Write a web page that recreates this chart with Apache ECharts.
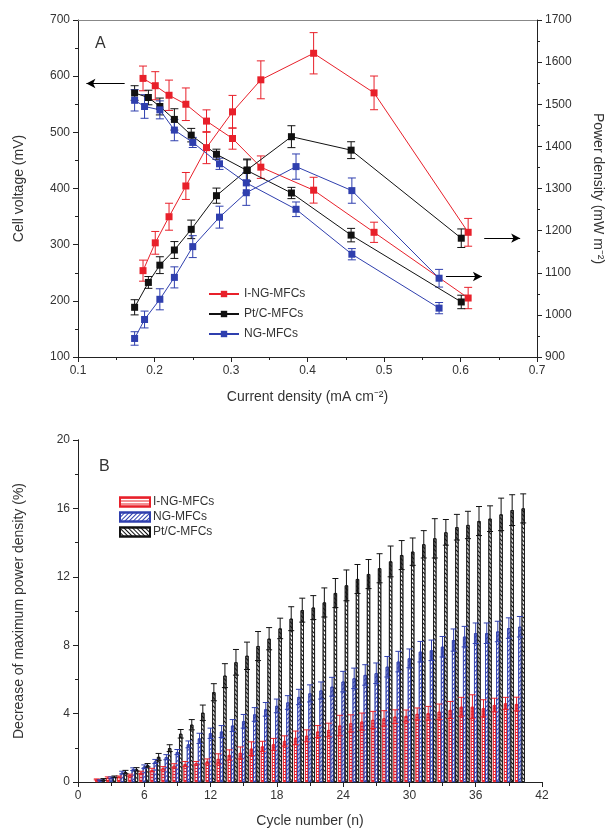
<!DOCTYPE html>
<html>
<head>
<meta charset="utf-8">
<script src="https://cdn.jsdelivr.net/npm/echarts@6/dist/echarts.min.js"></script>
<style>
html,body{margin:0;padding:0;background:#fff;}
#chart{width:613px;height:833px;}
</style>
</head>
<body>
<div id="chart"></div>
<script>
// ---------- Panel A data ----------
const xRed   = [0.185,0.201,0.219,0.241,0.268,0.302,0.339,0.408,0.487,0.610];
const vRed   = [596,583,566,550,520,489,438,397,322,205];
const vRedE  = [22,25,27,29,20,19,20,23,18,19];
const pRed   = [1105,1171,1233,1306,1397,1482,1558,1621,1527,1196];
const pRedE  = [25,27,32,32,38,39,45,49,40,33];

const xBlack = [0.174,0.192,0.207,0.226,0.248,0.281,0.321,0.379,0.457,0.601];
const vBlack = [570,562,546,523,495,461,432,392,317,198];
const vBlackE= [13,13,15,19,12,9,19,10,12,12];
const pBlack = [1018,1077,1118,1154,1203,1283,1344,1423,1391,1182];
const pBlackE= [18,14,20,20,22,18,26,26,20,22];

const xBlue  = [0.174,0.187,0.207,0.226,0.250,0.285,0.320,0.385,0.458,0.572];
const vBlue  = [557,546,540,504,482,444,410,363,283,187];
const vBlueE = [19,21,16,19,9,10,18,13,10,10];
const pBlue  = [944,989,1037,1089,1162,1232,1290,1352,1295,1087];
const pBlueE = [16,20,25,25,26,26,30,30,30,21];

// ---------- Panel B data ----------
const cycles = [2,3,4,5,6,7,8,9,10,11,12,13,14,15,16,17,18,19,20,21,22,23,24,25,26,27,28,29,30,31,32,33,34,35,36,37,38,39,40];
const decING = [0.15,0.25,0.3,0.4,0.55,0.7,0.8,0.95,1.05,1.1,1.2,1.35,1.58,1.7,1.95,2.08,2.2,2.4,2.58,2.7,2.95,3.04,3.3,3.43,3.53,3.63,3.72,3.82,3.86,3.98,4.02,4.11,4.21,4.4,4.4,4.31,4.5,4.6,4.56];
const errING = [0.03,0.05,0.05,0.06,0.08,0.1,0.1,0.12,0.15,0.1,0.15,0.3,0.3,0.35,0.4,0.3,0.35,0.3,0.4,0.35,0.35,0.4,0.6,0.5,0.5,0.5,0.45,0.4,0.35,0.35,0.4,0.45,0.5,0.55,0.7,0.5,0.4,0.35,0.4];
const decNG  = [0.1,0.25,0.55,0.75,0.9,1.2,1.45,1.75,2.2,2.55,2.85,2.95,3.3,3.55,3.95,4.25,4.45,4.65,4.97,5.18,5.35,5.57,5.87,6.06,6.26,6.36,6.74,7.04,7.23,7.62,7.7,7.91,8.3,8.5,8.7,8.7,8.8,9.0,9.08];
const errNG  = [0.03,0.05,0.08,0.08,0.1,0.12,0.15,0.15,0.2,0.3,0.3,0.35,0.35,0.4,0.4,0.4,0.4,0.4,0.45,0.5,0.5,0.55,0.6,0.6,0.6,0.6,0.6,0.6,0.55,0.6,0.6,0.6,0.65,0.6,0.6,0.6,0.6,0.6,0.6];
const decPtC = [0.15,0.3,0.58,0.74,0.98,1.47,1.98,2.82,3.35,4.05,5.25,6.22,7.0,7.38,7.95,8.38,8.98,9.55,10.05,10.2,10.5,11.05,11.5,11.87,12.16,12.5,12.9,13.27,13.47,13.9,14.25,14.6,14.9,15.03,15.26,15.4,15.65,15.9,16.0];
const errPtC = [0.05,0.05,0.1,0.1,0.1,0.2,0.2,0.25,0.3,0.45,0.5,0.7,0.75,0.8,0.85,0.65,0.6,0.7,0.7,0.7,0.85,0.85,0.9,0.85,0.85,0.85,0.9,0.85,0.8,0.8,1.15,0.75,0.75,0.8,0.85,0.75,0.95,0.9,0.85];

const RED = '#e8202a', BLUE = '#2f3fae', BLACK = '#111111';
const FONT = 'Liberation Sans, Arial, sans-serif';
const TXT = '#333333';

function zip(xs, ys, es){ return xs.map((x,i)=> es ? [x, ys[i], es[i]] : [x, ys[i]]); }

function errRender(offsetPx, cap, color){
  return function(params, api){
    const x = api.value(0), y = api.value(1), e = api.value(2);
    const p1 = api.coord([x, y + e]);
    const p2 = api.coord([x, y - e]);
    const cx = p1[0] + offsetPx;
    const st = {stroke: color, lineWidth: 1};
    return {type:'group', children:[
      {type:'line', shape:{x1:cx, y1:p1[1], x2:cx, y2:p2[1]}, style:st},
      {type:'line', shape:{x1:cx-cap, y1:p1[1], x2:cx+cap, y2:p1[1]}, style:st},
      {type:'line', shape:{x1:cx-cap, y1:p2[1], x2:cx+cap, y2:p2[1]}, style:st}
    ]};
  };
}

function lineSeries(name, color, data, yIdx, extra){
  return Object.assign({
    name, type:'line', xAxisIndex:0, yAxisIndex:yIdx, data,
    symbol:'rect', symbolSize:7, color,
    lineStyle:{width:1, color}, itemStyle:{color},
    z:3, animation:false
  }, extra || {});
}
function errSeries(color, data, xIdx, yIdx, off, cap){
  return {type:'custom', name:'err', coordinateSystem:'cartesian2d',
    xAxisIndex:xIdx, yAxisIndex:yIdx, data, encode:{x:0, y:1},
    renderItem: errRender(off, cap, color), z:2, animation:false, silent:true};
}

const arrowCommon = {silent:true, symbol:['none','arrow'], symbolSize:[7,9],
  label:{show:false}, lineStyle:{color:'#000', width:1, type:'solid'}};

function decal(rot, color){
  return {symbol:'rect', symbolSize:1, dashArrayX:[1,0], dashArrayY:[1,2], rotation:rot, color};
}
function barSeries(name, color, data, rot){
  return {name, type:'bar', xAxisIndex:1, yAxisIndex:2, data,
    barWidth:3.3, barGap:'0%',
    itemStyle:{color:'#ffffff', borderColor:color, borderWidth:0.8, decal:decal(rot, color)},
    z:2, animation:false};
}

const axisLbl = {color:TXT, fontFamily:FONT, fontSize:12};
const axisLn = {lineStyle:{color:'#222', width:1}};

const option = {
  backgroundColor:'#fff',
  animation:false,
  textStyle:{fontFamily:FONT},
  grid:[
    {left:78, right:75, top:20, height:337},
    {left:78, right:71, top:440, height:342}
  ],
  xAxis:[
    {type:'value', gridIndex:0, min:0.1, max:0.7, interval:0.1, position:'bottom',
     axisLine:axisLn, axisTick:{length:5, lineStyle:{color:'#222'}},
     minorTick:{show:true, splitNumber:2, length:3, lineStyle:{color:'#222'}},
     splitLine:{show:false}, axisLabel:Object.assign({margin:8}, axisLbl),
     name:'Current density (mA cm\u207B\u00B2)', nameLocation:'middle', nameGap:33,
     nameTextStyle:{color:TXT, fontFamily:FONT, fontSize:14}},
    {type:'value', gridIndex:1, min:0, max:42, interval:6, position:'bottom',
     axisLine:axisLn, axisTick:{length:5, lineStyle:{color:'#222'}},
     minorTick:{show:true, splitNumber:2, length:3, lineStyle:{color:'#222'}},
     splitLine:{show:false}, axisLabel:Object.assign({margin:8}, axisLbl),
     name:'Cycle number (n)', nameLocation:'middle', nameGap:32,
     nameTextStyle:{color:TXT, fontFamily:FONT, fontSize:14}},
    {type:'value', gridIndex:1, min:0, max:42, interval:6, position:'top',
     axisLine:axisLn, axisTick:{show:false},
     minorTick:{show:true, splitNumber:2, length:-4, lineStyle:{color:'#222'}},
     splitLine:{show:false}, axisLabel:{show:false}},
    {type:'value', gridIndex:0, min:0.1, max:0.7, position:'top',
     axisLine:{lineStyle:{color:'#888', width:1}}, axisTick:{show:false},
     splitLine:{show:false}, axisLabel:{show:false}}
  ],
  yAxis:[
    {type:'value', gridIndex:0, min:100, max:700, interval:100, position:'left',
     axisLine:Object.assign({show:true}, axisLn), axisTick:{show:true, length:5, lineStyle:{color:'#222'}},
     minorTick:{show:true, splitNumber:2, length:3, lineStyle:{color:'#222'}},
     splitLine:{show:false}, axisLabel:Object.assign({margin:8}, axisLbl),
     name:'Cell voltage (mV)', nameLocation:'middle', nameGap:52,
     nameTextStyle:{color:TXT, fontFamily:FONT, fontSize:14}},
    {type:'value', gridIndex:0, min:900, max:1700, interval:100, position:'right',
     axisLine:Object.assign({show:true}, axisLn), axisTick:{show:true, length:5, lineStyle:{color:'#222'}},
     minorTick:{show:true, splitNumber:2, length:3, lineStyle:{color:'#222'}},
     splitLine:{show:false}, axisLabel:Object.assign({margin:8, formatter: v => String(v)}, axisLbl),
     name:'Power density (mW m\u207B\u00B2)', nameLocation:'middle', nameGap:54, nameRotate:-90,
     nameTextStyle:{color:TXT, fontFamily:FONT, fontSize:14}},
    {type:'value', gridIndex:1, min:0, max:20, interval:4, position:'left',
     axisLine:Object.assign({show:true}, axisLn), axisTick:{show:true, length:5, lineStyle:{color:'#222'}},
     minorTick:{show:true, splitNumber:2, length:3, lineStyle:{color:'#222'}},
     splitLine:{show:false}, axisLabel:Object.assign({margin:8}, axisLbl),
     name:'Decrease of maximum power density (%)', nameLocation:'middle', nameGap:52,
     nameTextStyle:{color:TXT, fontFamily:FONT, fontSize:14}},
    {type:'value', gridIndex:1, min:0, max:20, position:'right',
     axisLine:Object.assign({show:true}, axisLn), axisTick:{show:false},
     splitLine:{show:false}, axisLabel:{show:false}}
  ],
  legend:[
    {orient:'vertical', left:203, top:283, itemWidth:30, itemHeight:8, itemGap:8,
     data:['I-NG-MFCs','Pt/C-MFCs','NG-MFCs'],
     textStyle:{color:TXT, fontFamily:FONT, fontSize:12}, selectedMode:false},
    {orient:'vertical', left:114, top:491, itemWidth:30, itemHeight:9, itemGap:3,
     icon:'rect',
     data:['B:I-NG-MFCs','B:NG-MFCs','B:Pt/C-MFCs'],
     formatter: n => n.replace('B:',''),
     textStyle:{color:TXT, fontFamily:FONT, fontSize:12, padding:[0,0,0,-2]}, selectedMode:false}
  ],
  graphic:[
    {type:'text', left:95, top:36, style:{text:'A', fontSize:16, fill:TXT, fontFamily:FONT}},
    {type:'text', left:99, top:459, style:{text:'B', fontSize:16, fill:TXT, fontFamily:FONT}}
  ],
  series:[
    // Panel A error bars
    errSeries(RED,   zip(xRed, vRed, vRedE), 0, 0, 0, 4),
    errSeries(RED,   zip(xRed, pRed, pRedE), 0, 1, 0, 4),
    errSeries(BLACK, zip(xBlack, vBlack, vBlackE), 0, 0, 0, 4),
    errSeries(BLACK, zip(xBlack, pBlack, pBlackE), 0, 1, 0, 4),
    errSeries(BLUE,  zip(xBlue, vBlue, vBlueE), 0, 0, 0, 4),
    errSeries(BLUE,  zip(xBlue, pBlue, pBlueE), 0, 1, 0, 4),
    // Panel A lines
    lineSeries('I-NG-MFCs', RED, zip(xRed, vRed), 0, {
      markLine: Object.assign({data:[[{coord:[0.161,587]},{coord:[0.111,587]}]]}, arrowCommon)}),
    lineSeries('I-NG-MFCs', RED, zip(xRed, pRed), 1, {
      markLine: Object.assign({data:[
        [{coord:[0.631,1182]},{coord:[0.678,1182]}],
        [{coord:[0.581,1091]},{coord:[0.628,1091]}]
      ]}, arrowCommon)}),
    lineSeries('Pt/C-MFCs', BLACK, zip(xBlack, vBlack), 0),
    lineSeries('Pt/C-MFCs', BLACK, zip(xBlack, pBlack), 1),
    lineSeries('NG-MFCs', BLUE, zip(xBlue, vBlue), 0),
    lineSeries('NG-MFCs', BLUE, zip(xBlue, pBlue), 1),
    // Panel B bars
    barSeries('B:I-NG-MFCs', RED, zip(cycles, decING), 0),
    barSeries('B:NG-MFCs', BLUE, zip(cycles, decNG), -Math.PI/4),
    barSeries('B:Pt/C-MFCs', BLACK, zip(cycles, decPtC), Math.PI/4),
    // Panel B error bars
    errSeries(RED,   zip(cycles, decING, errING), 1, 2, -3.3, 3),
    errSeries(BLUE,  zip(cycles, decNG, errNG), 1, 2, 0, 3),
    errSeries(BLACK, zip(cycles, decPtC, errPtC), 1, 2, 3.3, 3)
  ]
};
option.series.slice(-3).forEach(s => s.z = 4);

const chart = echarts.init(document.getElementById('chart'), null, {renderer:'canvas'});
chart.setOption(option);
</script>
</body>
</html>
